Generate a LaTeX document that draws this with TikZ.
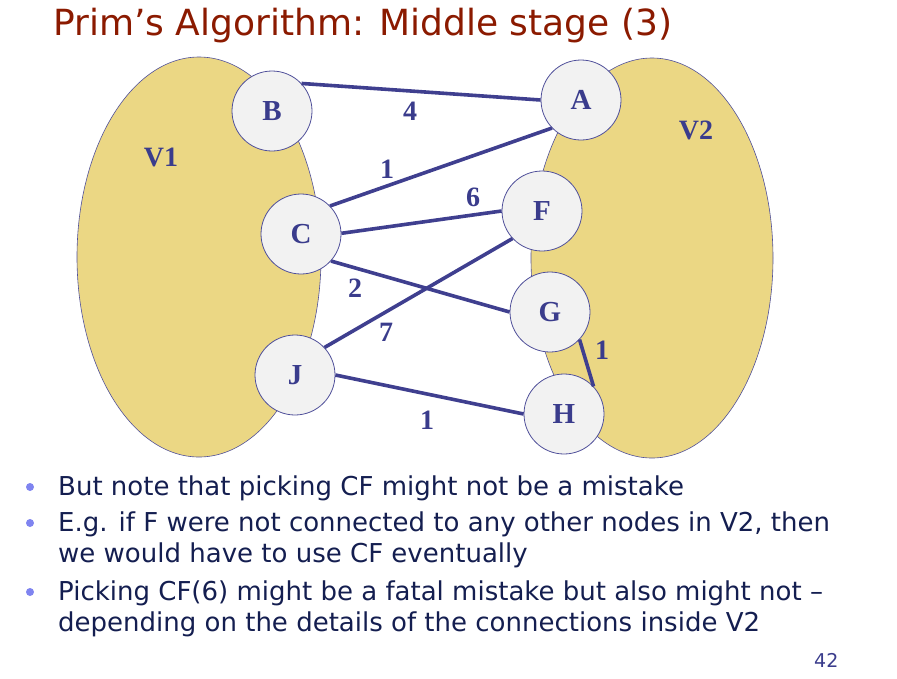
\documentclass[tikz,border=0pt]{standalone}
\usepackage{fontspec}
\setmainfont{Liberation Serif}
\newfontfamily\slidefont{DejaVu Sans}
\begin{document}
\definecolor{titlered}{HTML}{8B1A00}
\definecolor{setfill}{HTML}{EBD784}
\definecolor{setline}{HTML}{50509A}
\definecolor{edgeblue}{HTML}{3F3F8F}
\definecolor{nodefill}{HTML}{F2F2F2}
\definecolor{labelblue}{HTML}{3A3C8C}
\definecolor{bodytext}{HTML}{141E50}
\definecolor{bulletblue}{HTML}{7F84F0}
\begin{tikzpicture}[x=1pt,y=-1pt,
  vertex/.style={circle,minimum size=80pt,inner sep=0pt,fill=nodefill,draw=setline,line width=0.8pt,
    font=\fontsize{29}{29}\selectfont\bfseries,text=labelblue},
  edge/.style={draw=edgeblue,line width=3.6pt},
  weight/.style={font=\fontsize{28}{28}\selectfont\bfseries,text=labelblue,inner sep=0pt},
  setarea/.style={fill=setfill,draw=setline,line width=0.6pt},
  bodyline/.style={anchor=base west,inner sep=0pt,text=bodytext,font=\slidefont\fontsize{26}{26}\selectfont},
  bulletdot/.style={circle,fill=bulletblue,minimum size=8pt,inner sep=0pt}]
\useasboundingbox (0,0) rectangle (897,678);
% title
\node[anchor=base west,inner sep=0pt,text=titlered,font=\slidefont\fontsize{36}{36}\selectfont] (title) at (53,35) {Prim’s Algorithm: Middle stage (3)};
% the two vertex sets
\path[setarea] (199,257) ellipse [x radius=122, y radius=200];
\path[setarea] (652,258) ellipse [x radius=121, y radius=200];
\node[weight] (v1) at (161,157) {V1};
\node[weight] (v2) at (696,130) {V2};
% vertices
\node[vertex] (B) at (272,111) {B};
\node[vertex] (A) at (581,100) {A};
\node[vertex] (C) at (301,234) {C};
\node[vertex] (F) at (542,211) {F};
\node[vertex] (G) at (550,312) {G};
\node[vertex] (J) at (295,375) {J};
\node[vertex] (H) at (564,414) {H};
% edges
\draw[edge] (B.43) -- (A.180);
\draw[edge] (C.44) -- (A.224);
\draw[edge] (C.1) -- (F.180);
\draw[edge] (C.318) -- (G.180);
\draw[edge] (J.43) -- (F.223);
\draw[edge] (J.0) -- (H.180);
\draw[edge] (G.317) -- (H.43);
% weights
\node[weight] (w4) at (410,111) {4};
\node[weight] (w1a) at (387,169) {1};
\node[weight] (w6) at (473,197) {6};
\node[weight] (w2) at (355,288) {2};
\node[weight] (w7) at (386,332) {7};
\node[weight] (w1b) at (427,420) {1};
\node[weight] (w1c) at (602,350) {1};
% bullet text
\node[bulletdot] (d1) at (30,487) {};
\node[bodyline] (t1) at (58,495) {But note that picking CF might not be a mistake};
\node[bulletdot] (d2) at (30,523) {};
\node[bodyline] (t2) at (58,531) {E.g. if F were not connected to any other nodes in V2, then};
\node[bodyline] (t3) at (58,562) {we would have to use CF eventually};
\node[bulletdot] (d3) at (30,592) {};
\node[bodyline] (t4) at (58,600) {Picking CF(6) might be a fatal mistake but also might not –};
\node[bodyline] (t5) at (58,631) {depending on the details of the connections inside V2};
\node[anchor=base west,inner sep=0pt,text=labelblue,font=\slidefont\fontsize{19}{19}\selectfont] (page) at (814,667) {42};
\end{tikzpicture}
\end{document}
